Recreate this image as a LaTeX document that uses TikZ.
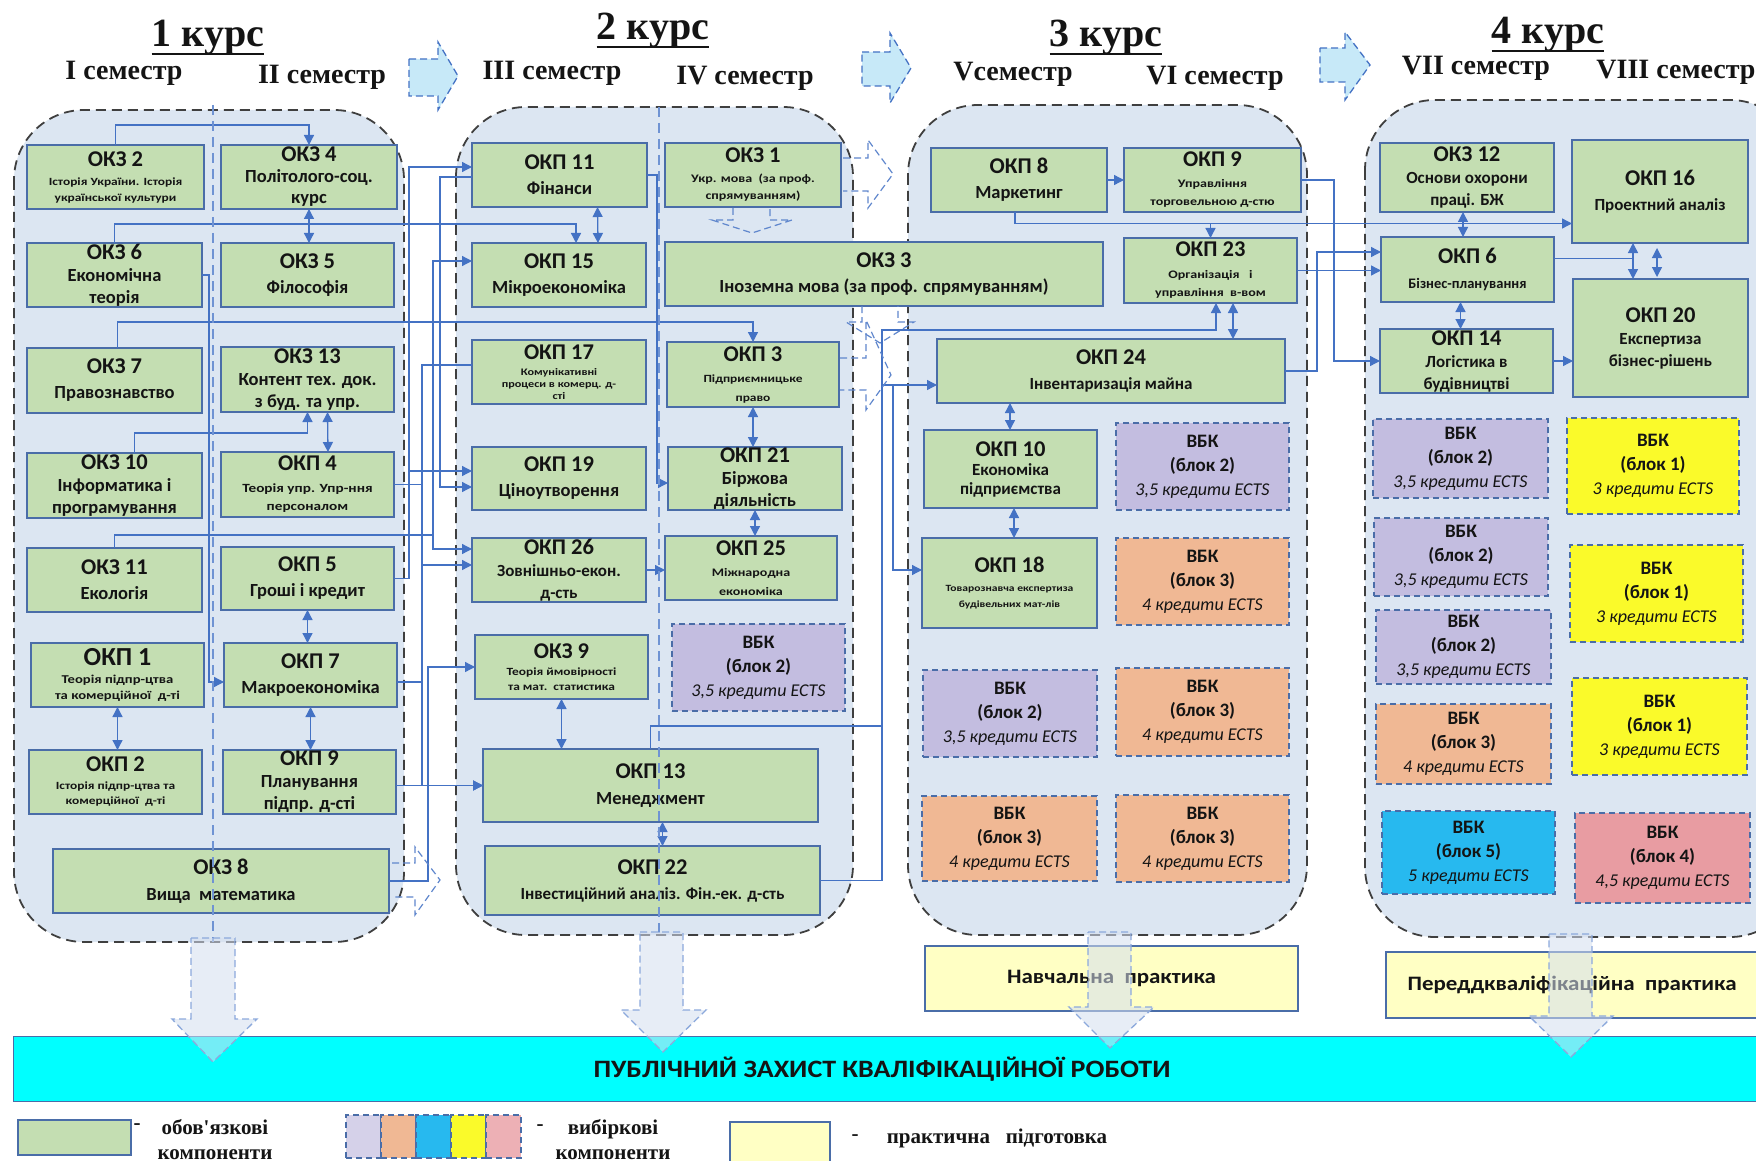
\documentclass[tikz,border=0pt]{standalone}
\usepackage{fontspec}
\setmainfont{Carlito}
\newfontfamily\widefont{Carlito}[FakeStretch=1.22]
\newfontfamily\midfont{Carlito}[FakeStretch=1.12]
\newfontfamily\hdr{Liberation Serif}
\usetikzlibrary{arrows.meta,calc}
\definecolor{pnl}{HTML}{DCE6F2}
\definecolor{pbd}{HTML}{3F3F3F}
\definecolor{grn}{HTML}{C4DEB2}
\definecolor{bxb}{HTML}{4A6DA8}
\definecolor{cn}{HTML}{4472C4}
\definecolor{pur}{HTML}{C3BDE0}
\definecolor{org}{HTML}{F0B894}
\definecolor{ylw}{HTML}{FAFA2A}
\definecolor{blu}{HTML}{27B9EF}
\definecolor{pnk}{HTML}{E89CA2}
\definecolor{cya}{HTML}{00FFFF}
\definecolor{prc}{HTML}{FFFFC4}
\definecolor{tar}{HTML}{C7E9F8}
\definecolor{dar}{HTML}{D5DFF0}
\definecolor{dsl}{HTML}{6F93D3}
\definecolor{txc}{HTML}{141414}
\newcommand\lsk[1]{\fontsize{10}{#1}\selectfont}
\newcommand\fA{\fontsize{22.5}{22.5}\selectfont\bfseries}
\newcommand\fAA{\fontsize{26}{26}\selectfont\bfseries}
\newcommand\fB{\fontsize{18.5}{18.5}\selectfont\bfseries}
\newcommand\fBs{\fontsize{17}{17}\selectfont\bfseries}
\newcommand\fW[1]{\widefont\fontsize{#1}{#1}\selectfont\bfseries}
\newcommand\fI{\fontsize{18}{18}\selectfont\mdseries\itshape}
\newcommand\fV{\fontsize{19}{19}\selectfont\bfseries}
\newcommand\vt[2]{\fV ВБК\\\fV (блок #1)\\\fI #2 кредити ECTS}
\newcommand\bx[8]{%
  \node[#1, minimum width={(#5)-(#3)}, minimum height={(#6)-(#4)}] (#2) at ({((#3)+(#5))/2},{((#4)+(#6))/2}) {};
  \node[txt,#7] (#2-t) at (#2.center) {#8};}
\tikzset{
  gbox/.style={draw=bxb, fill=grn, line width=1.5pt, inner sep=0pt, outer sep=0pt},
  vbx/.style={draw=bxb, line width=1.4pt, dash pattern=on 6pt off 4pt, inner sep=0pt, outer sep=0pt},
  txt/.style={align=center, inner sep=0pt, text=txc},
  ln/.style={draw=cn, line width=1.3pt},
  arr/.style={ln, -{Triangle[length=10pt,width=10pt]}},
  darr/.style={ln, {Triangle[length=10pt,width=10pt]}-{Triangle[length=10pt,width=10pt]}},
  panel/.style={draw=pbd, fill=pnl, line width=1.8pt, dash pattern=on 10pt off 6pt, rounded corners=70pt},
  divl/.style={draw=dsl, line width=1.3pt, dash pattern=on 10pt off 6pt},
  dsh/.style={draw=cn!85, line width=1.2pt, dash pattern=on 7pt off 4pt},
  tarw/.style={fill=tar, draw=cn, line width=1.3pt, dash pattern=on 7pt off 4pt},
  barw/.style={fill=dar, fill opacity=0.55, draw=dsl!80, line width=1.3pt, dash pattern=on 7pt off 4pt},
  hdA/.style={inner sep=0pt, font=\hdr\bfseries\fontsize{40}{40}\selectfont, text=txc},
  hdB/.style={inner sep=0pt, font=\hdr\bfseries\fontsize{28}{28}\selectfont, text=txc},
  lgt/.style={align=center, inner sep=0pt, font=\hdr\bfseries\fontsize{21}{25}\selectfont, text=txc},
}
\begin{document}
\begin{tikzpicture}[x=1pt,y=-1pt]
\useasboundingbox (0,0) rectangle (1756,1161);
\clip (0,0) rectangle (1756,1161);
\fill[white] (0,0) rectangle (1756,1161);

% ---------- panels
\path[panel] (14,110) rectangle (404,942);
\path[panel] (456,107) rectangle (853,935);
\path[panel] (908,105) rectangle (1307,935);
\path[panel] (1365,100) rectangle (1800,937);

% ---------- headers
\node[hdA] (h1) at (208,38) {1 курс};
\node[hdA] (h2) at (653,31) {2 курс};
\node[hdA] (h3) at (1106,38) {3 курс};
\node[hdA] (h4) at (1548,35) {4 курс};
\foreach \h in {h1,h2,h3,h4}{\draw[line width=2.2pt, txc] ($(\h.base west)+(0,7)$) -- ($(\h.base east)+(0,7)$);}
\node[hdB] (s1) at (124,73) {I семестр};
\node[hdB] (s2) at (322,77) {II семестр};
\node[hdB] (s3) at (552,73) {III семестр};
\node[hdB] (s4) at (745,78) {IV семестр};
\node[hdB] (s5) at (1013,74) {Vсеместр};
\node[hdB] (s6) at (1215,78) {VI семестр};
\node[hdB] (s7) at (1476,68) {VII семестр};
\node[hdB] (s8) at (1676,72) {VIII семестр};

% ---------- top arrows
\path[tarw] (409,59) -- (438,59) -- (438,42) -- (458,76) -- (438,110) -- (438,96) -- (409,96) -- cycle;
\path[tarw] (862,52) -- (890,52) -- (890,33) -- (911,68) -- (890,103) -- (890,86) -- (862,86) -- cycle;
\path[tarw] (1320,48) -- (1345,48) -- (1345,32) -- (1370,65) -- (1345,100) -- (1345,82) -- (1320,82) -- cycle;

% ---------- year 1 boxes
\bx{gbox}{okz2}{27}{145}{204}{209}{font=\lsk{16}}{\fA ОКЗ 2\\[3pt]\fW{11}Історія України. Історія\\\fW{11}української культури}
\bx{gbox}{okz4}{221}{145}{397}{209}{font=\lsk{21}}{\fA ОКЗ 4\\\fB Політолого-соц.\\\fB курс}
\bx{gbox}{okz6}{27}{243}{202}{307}{font=\lsk{22}}{\fA ОКЗ 6\\\fB Економічна\\\fB теорія}
\bx{gbox}{okz5}{221}{243}{394}{307}{font=\lsk{25}}{\fA ОКЗ 5\\\fB Філософія}
\bx{gbox}{okz7}{27}{348}{202}{413}{font=\lsk{25}}{\fA ОКЗ 7\\\fB Правознавство}
\bx{gbox}{okz13}{221}{347}{394}{412}{font=\lsk{22}}{\fA ОКЗ 13\\\fB Контент тех. док.\\\fB з буд. та упр.}
\bx{gbox}{okz10}{27}{453}{202}{518}{font=\lsk{22}}{\fA ОКЗ 10\\\fB Інформатика і\\\fB програмування}
\bx{gbox}{okp4}{221}{452}{394}{517}{font=\lsk{18}}{\fA ОКП 4\\[4pt]\fW{12.5}Теорія упр. Упр-ння\\\fW{12.5}персоналом}
\bx{gbox}{okz11}{27}{548}{202}{612}{font=\lsk{25}}{\fA ОКЗ 11\\\fB Екологія}
\bx{gbox}{okp5}{221}{547}{394}{610}{font=\lsk{25}}{\fA ОКП 5\\\fB Гроші і кредит}
\bx{gbox}{okp1}{31}{643}{204}{707}{font=\lsk{16}}{\fAA ОКП 1\\[2pt]\fW{12}Теорія підпр-цтва\\\fW{12}та комерційної\ \ д-ті}
\bx{gbox}{okp7}{224}{643}{397}{707}{font=\lsk{25}}{\fA ОКП 7\\\fB Макроекономіка}
\bx{gbox}{okp2}{29}{750}{202}{814}{font=\lsk{15}}{\fA ОКП 2\\[3pt]\fW{11}Історія підпр-цтва та\\\fW{11}комерційної\ \ д-ті}
\bx{gbox}{okp9}{223}{750}{396}{814}{font=\lsk{22}}{\fA ОКП 9\\\fB Планування\\\fB підпр. д-сті}
\bx{gbox}{okz8}{53}{849}{389}{913}{font=\lsk{26}}{\fA ОКЗ 8\\\fB Вища\ \ математика}

% ---------- year 2 boxes
\bx{gbox}{okp11}{472}{143}{647}{207}{font=\lsk{25}}{\fA ОКП 11\\\fB Фінанси}
\bx{gbox}{okz1}{665}{143}{841}{207}{font=\lsk{17}}{\fA ОКЗ 1\\[3pt]\fW{11.5}Укр. мова\ \ (за проф.\\\fW{11.5}спрямуванням)}
\bx{gbox}{okp15}{472}{243}{646}{307}{font=\lsk{25}}{\fA ОКП 15\\\fB Мікроекономіка}
\bx{gbox}{okz3}{665}{242}{1103}{306}{font=\lsk{25}}{\fA ОКЗ 3\\\fB Іноземна мова (за проф. спрямуванням)}
\bx{gbox}{okp17}{472}{340}{646}{404}{font=\lsk{12}}{\fA ОКП 17\\[4pt]\fW{10}Комунікативні\\\fW{10}процеси в комерц. д-\\\fW{10}сті}
\bx{gbox}{okp3}{667}{342}{839}{407}{font=\lsk{19}}{\fA ОКП 3\\[2pt]\fW{11}Підприємницьке\\\fW{11}право}
\bx{gbox}{okp19}{472}{447}{646}{510}{font=\lsk{25}}{\fA ОКП 19\\\fB Ціноутворення}
\bx{gbox}{okp21}{668}{447}{842}{510}{font=\lsk{22}}{\fA ОКП 21\\\fB Біржова\\\fB діяльність}
\bx{gbox}{okp26}{472}{538}{646}{602}{font=\lsk{22}}{\fA ОКП 26\\\fBs Зовнішньо-екон.\\\fBs д-сть}
\bx{gbox}{okp25}{665}{536}{837}{600}{font=\lsk{19}}{\fA ОКП 25\\[2pt]\fW{11.5}Міжнародна\\\fW{11.5}економіка}
\bx{gbox}{okz9}{475}{635}{648}{699}{font=\lsk{15}}{\fA ОКЗ 9\\[2pt]\fW{11}Теорія ймовірності\\\fW{11}та мат.\ \ статистика}
\bx{vbx,fill=pur}{v2a}{672}{624}{845}{711}{font=\lsk{24}}{\vt{2}{3,5}}
\bx{gbox}{okp13}{483}{749}{818}{822}{font=\lsk{26}}{\fA ОКП 13\\\fB Менеджмент}
\bx{gbox}{okp22}{485}{846}{820}{915}{font=\lsk{25}}{\fA ОКП 22\\\fBs Інвестиційний аналіз. Фін.-ек. д-сть}

% ---------- year 3 boxes
\bx{gbox}{okp8}{931}{148}{1107}{212}{font=\lsk{25}}{\fA ОКП 8\\\fB Маркетинг}
\bx{gbox}{okp9b}{1124}{148}{1301}{212}{font=\lsk{18}}{\fA ОКП 9\\[3pt]\fW{11.5}Управління\\\fW{11.5}торговельною д-стю}
\bx{gbox}{okp23}{1124}{238}{1297}{303}{font=\lsk{18}}{\fA ОКП 23\\[4pt]\fW{11.5}Організація\ \ \ і\\\fW{11.5}управління\ \ в-вом}
\bx{gbox}{okp24}{937}{339}{1285}{403}{font=\lsk{25}}{\fA ОКП 24\\\fBs Інвентаризація майна}
\bx{gbox}{okp10}{924}{430}{1097}{508}{font=\lsk{19}}{\fA ОКП 10\\\fBs Економіка\\\fBs підприємства}
\bx{vbx,fill=pur}{v3a}{1116}{423}{1289}{510}{font=\lsk{24}}{\vt{2}{3,5}}
\bx{gbox}{okp18}{922}{538}{1097}{628}{font=\lsk{16}}{\fA ОКП 18\\[3pt]\fW{9.5}Товарознавча експертиза\\\fW{9.5}будівельних мат-лів}
\bx{vbx,fill=org}{v3b}{1116}{538}{1289}{625}{font=\lsk{24}}{\vt{3}{4}}
\bx{vbx,fill=pur}{v3c}{923}{670}{1097}{757}{font=\lsk{24}}{\vt{2}{3,5}}
\bx{vbx,fill=org}{v3d}{1116}{668}{1289}{756}{font=\lsk{24}}{\vt{3}{4}}
\bx{vbx,fill=org}{v3e}{922}{796}{1097}{881}{font=\lsk{24}}{\vt{3}{4}}
\bx{vbx,fill=org}{v3f}{1116}{795}{1289}{882}{font=\lsk{24}}{\vt{3}{4}}

% ---------- year 4 boxes
\bx{gbox}{okz12}{1380}{143}{1554}{212}{font=\lsk{22}}{\fA ОКЗ 12\\\fBs Основи охорони\\\fBs праці. БЖ}
\bx{gbox}{okp16}{1572}{140}{1748}{243}{font=\lsk{25}}{\fA ОКП 16\\\fBs Проектний аналіз}
\bx{gbox}{okp6}{1381}{237}{1554}{302}{font=\lsk{25}}{\fA ОКП 6\\\fontsize{14.5}{14.5}\selectfont\bfseries Бізнес-планування}
\bx{gbox}{okp20}{1573}{279}{1748}{397}{font=\lsk{22}}{\fA ОКП 20\\\fBs Експертиза\\\fBs бізнес-рішень}
\bx{gbox}{okp14}{1380}{329}{1553}{393}{font=\lsk{22}}{\fA ОКП 14\\\fBs Логістика в\\\fBs будівництві}
\bx{vbx,fill=pur}{v4a}{1373}{419}{1548}{498}{font=\lsk{24}}{\vt{2}{3,5}}
\bx{vbx,fill=ylw}{v4b}{1567}{418}{1739}{514}{font=\lsk{24}}{\vt{1}{3}}
\bx{vbx,fill=pur}{v4c}{1374}{518}{1548}{596}{font=\lsk{24}}{\vt{2}{3,5}}
\bx{vbx,fill=ylw}{v4d}{1570}{545}{1743}{642}{font=\lsk{24}}{\vt{1}{3}}
\bx{vbx,fill=pur}{v4e}{1376}{610}{1551}{684}{font=\lsk{24}}{\vt{2}{3,5}}
\bx{vbx,fill=org}{v4f}{1376}{704}{1551}{784}{font=\lsk{24}}{\vt{3}{4}}
\bx{vbx,fill=ylw}{v4g}{1572}{678}{1747}{775}{font=\lsk{24}}{\vt{1}{3}}
\bx{vbx,fill=blu}{v4h}{1382}{811}{1555}{894}{font=\lsk{24}}{\vt{5}{5}}
\bx{vbx,fill=pnk}{v4i}{1575}{813}{1750}{903}{font=\lsk{24}}{\vt{4}{4,5}}

% ---------- connectors year 1
\draw[arr] (okz2.north) -- ++(0,-20) -| (okz4.north);
\draw[darr] (okz4.south) -- (okz4.south |- okz5.north);
\draw[arr] (okz6.north) |- ($(okp15.north)+(17,-19)$) -- ($(okp15.north)+(17,0)$);
\draw[arr] ($(okz7.north)+(3,0)$) |- ($(okp3.north)+(0,-20)$) -- (okp3.north);
\draw[arr] ($(okz10.north)+(20,0)$) |- ($(okz13.south)+(0,21)$) -- (okz13.south);
\draw[darr] ($(okz13.south)+(20,0)$) -- ($(okp4.north)+(20.5,0)$);
\coordinate (j11) at (433,535);
\draw[ln] (okz11.north) |- (j11);
\draw[arr] (j11) |- ($(okp15.west)+(0,-14)$);
\draw[arr] (j11) |- ($(okp26.west)+(0,-21)$);
\draw[arr] (okp5.east) -| ($(okp11.west)+(-63,-8)$) -- ($(okp11.west)+(0,-8)$);
\draw[arr] ($(okp19.west)+(-63,-7.5)$) -- ($(okp19.west)+(0,-7.5)$);
\draw[arr] ($(okp11.west)+(0,2)$) -| ($(okp19.west)+(-32,8.5)$) -- ($(okp19.west)+(0,8.5)$);
\draw[arr] ($(okp17.west)+(0,-7)$) -| ($(okp13.west)+(-61,0)$) -- (okp13.west);
\draw[ln] (okp4.east) -- ++(28,0);
\draw[ln] ($(okp7.east)+(0,7)$) -- ++(25,0);
\draw[arr] ($(okp26.west)+(-50,-5)$) -- ($(okp26.west)+(0,-5)$);
\draw[arr] (okp9.east |- okp13.west) -- (okp13.west);
\draw[arr] (okz8.east) -| ($(okz9.west)+(-47,0)$) -- (okz9.west);
\draw[arr] (okz6.east) -| ($(okp7.west)+(-15,7)$) -- ($(okp7.west)+(0,7)$);
\draw[darr] (okp1.south) -- (okp1.south |- okp2.north);
\draw[darr] (okp5.south) -- (okp5.south |- okp7.north);
\draw[darr] (okp7.south) -- (okp7.south |- okp9.north);

% ---------- connectors year 2
\draw[darr] ($(okp11.south)+(38,0)$) -- ($(okp15.north)+(39,0)$);
\draw[arr] (okp11.east) -| ($(okp21.west)+(-11,4.5)$) -- ($(okp21.west)+(0,4.5)$);
\draw[darr] (okp3.south) -- (okp3.south |- okp21.north);
\draw[darr] (okp21.south) -- (okp21.south |- okp25.north);
\draw[arr] (okp26.east) -- (okp26.east -| okp25.west);
\draw[darr] (okz9.south) -- (okz9.south |- okp13.north);
\draw[darr] ($(okp13.south)+(12,0)$) -- ($(okp13.south)+(12,24)$);
\draw[ln] (okp13.north) |- ($(okp13.north)+(232,-23)$);
\draw[arr] (okp22.east) -| ($(okp23.south)+(-328.5,27)$) -| ($(okp23.south)+(5.5,0)$);
\draw[arr] ($(okp24.west)+(-55,14)$) -- ($(okp24.west)+(0,14)$);
\draw[arr] ($(okp24.west)+(-44,14)$) |- ($(okp18.west)+(0,-13)$);

% ---------- connectors year 3
\draw[arr] (okp8.east) -- (okp8.east -| okp9b.west);
\draw[arr] ($(okp8.south)+(-4,0)$) |- ($(okp16.west)+(0,32)$);
\draw[arr] ($(okp23.north)+(0,-14)$) -- (okp23.north);
\draw[darr] ($(okp23.south)+(22.5,0)$) -- ++(0,36);
\draw[darr] ($(okp24.south)+(-101,0)$) -- ++(0,27);
\draw[darr] ($(okp10.south)+(3.5,0)$) -- ++(0,30);
\draw[arr] (okp9b.east) -| ($(okp14.west)+(-46,0)$) -- (okp14.west);
\draw[arr] (okp23.east) -- (okp23.east -| okp6.west);
\draw[arr] (okp24.east) -| ($(okp6.west)+(-64,-17.5)$) -- ($(okp6.west)+(0,-17.5)$);

% ---------- connectors year 4
\draw[darr] ($(okz12.south)+(-4,0)$) -- ++(0,25);
\draw[darr] ($(okp6.south)+(-7,0)$) -- ++(0,27);
\draw[arr] (okp14.east) -- (okp14.east -| okp20.west);
\draw[ln] ($(okp6.east)+(0,-11)$) -- ++(79,0);
\draw[darr] ($(okp16.south)+(-27,0)$) -- ($(okp20.north)+(-27.5,0)$);
\draw[darr] ($(okp16.south)+(-3,5)$) -- ($(okp20.north)+(-3.5,-2)$);

% ---------- dashed outline arrows
\draw[dsh] (392,863) -- (415,863) -- (415,847) -- (440,880) -- (415,915) -- (415,897) -- (392,897);
\draw[dsh] (843,158) -- (868,158) -- (868,140) -- (893,174) -- (868,208) -- (868,191) -- (843,191);
\draw[dsh] (840,358) -- (866,358) -- (866,320) -- (891,375) -- (866,410) -- (866,390) -- (840,390);
\draw[dsh] (733,208) -- (733,220) -- (712,220) -- (752,233) -- (792,220) -- (770,220) -- (770,208);
\draw[dsh] (862,306) -- (862,322) -- (846,322) -- (880,343) -- (914,322) -- (898,322) -- (898,306);

% ---------- semester dividers
\draw[divl] (213,105) -- (213,942);
\draw[divl] (659,107) -- (659,935);

% ---------- practice and band
\node[draw=bxb, fill=prc, line width=1.3pt, minimum width=373, minimum height=65, inner sep=0pt] (pr1) at (1111.5,978.5) {};
\node[txt, font=\midfont\fontsize{20.5}{20.5}\selectfont\bfseries] (pr1-t) at (pr1.center) {Навчальна\ \ практика};
\node[draw=bxb, fill=prc, line width=1.3pt, minimum width=372, minimum height=66, inner sep=0pt] (pr2) at (1572,985) {};
\node[txt, font=\midfont\fontsize{20.5}{20.5}\selectfont\bfseries] (pr2-t) at (pr2.center) {Переддкваліфікаційна\ \ практика};
\node[draw=bxb, fill=cya, line width=1pt, minimum width=1746, minimum height=65, inner sep=0pt] (band) at (886,1068.5) {};
\node[txt, font=\midfont\fontsize{25}{25}\selectfont\bfseries] (band-t) at (882,1069) {ПУБЛІЧНИЙ ЗАХИСТ КВАЛІФІКАЦІЙНОЇ РОБОТИ};

% ---------- big down arrows
\path[barw] (191,938) -- (235,938) -- (235,1019) -- (257,1019) -- (213,1062) -- (172,1019) -- (191,1019) -- cycle;
\path[barw] (640,932) -- (683,932) -- (683,1010) -- (706,1010) -- (663,1052) -- (621,1010) -- (640,1010) -- cycle;
\path[barw] (1088,932) -- (1131,932) -- (1131,1007) -- (1154,1007) -- (1110,1048) -- (1069,1007) -- (1088,1007) -- cycle;
\path[barw] (1549,934) -- (1592,934) -- (1592,1016) -- (1613,1016) -- (1571,1057) -- (1529,1016) -- (1549,1016) -- cycle;

% ---------- legend
\node[draw=bxb, fill=grn, line width=1.3pt, minimum width=113, minimum height=35, inner sep=0pt] (lg1) at (74.5,1137.5) {};
\node[lgt] (lg1d) at (137,1127) {-};
\node[lgt] (lg1t) at (215,1140) {обов'язкові\\компоненти};
\node[vbx, fill=pur!70, minimum width=35, minimum height=43] (lgv1) at (363.5,1136.5) {};
\node[vbx, fill=org, minimum width=35, minimum height=43] (lgv2) at (398.5,1136.5) {};
\node[vbx, fill=blu, minimum width=35, minimum height=43] (lgv3) at (433.5,1136.5) {};
\node[vbx, fill=ylw, minimum width=35, minimum height=43] (lgv4) at (468.5,1136.5) {};
\node[vbx, fill=pnk!80, minimum width=35, minimum height=43] (lgv5) at (503.5,1136.5) {};
\node[lgt] (lg2d) at (540,1128) {-};
\node[lgt] (lg2t) at (613,1140) {вибіркові\\компоненти};
\node[draw=bxb, fill=prc, line width=1.3pt, minimum width=100, minimum height=40, inner sep=0pt] (lg3) at (780,1142) {};
\node[lgt] (lg3d) at (855,1138) {-};
\node[lgt] (lg3t) at (997,1138) {практична\ \ \ підготовка};
\end{tikzpicture}
\end{document}
